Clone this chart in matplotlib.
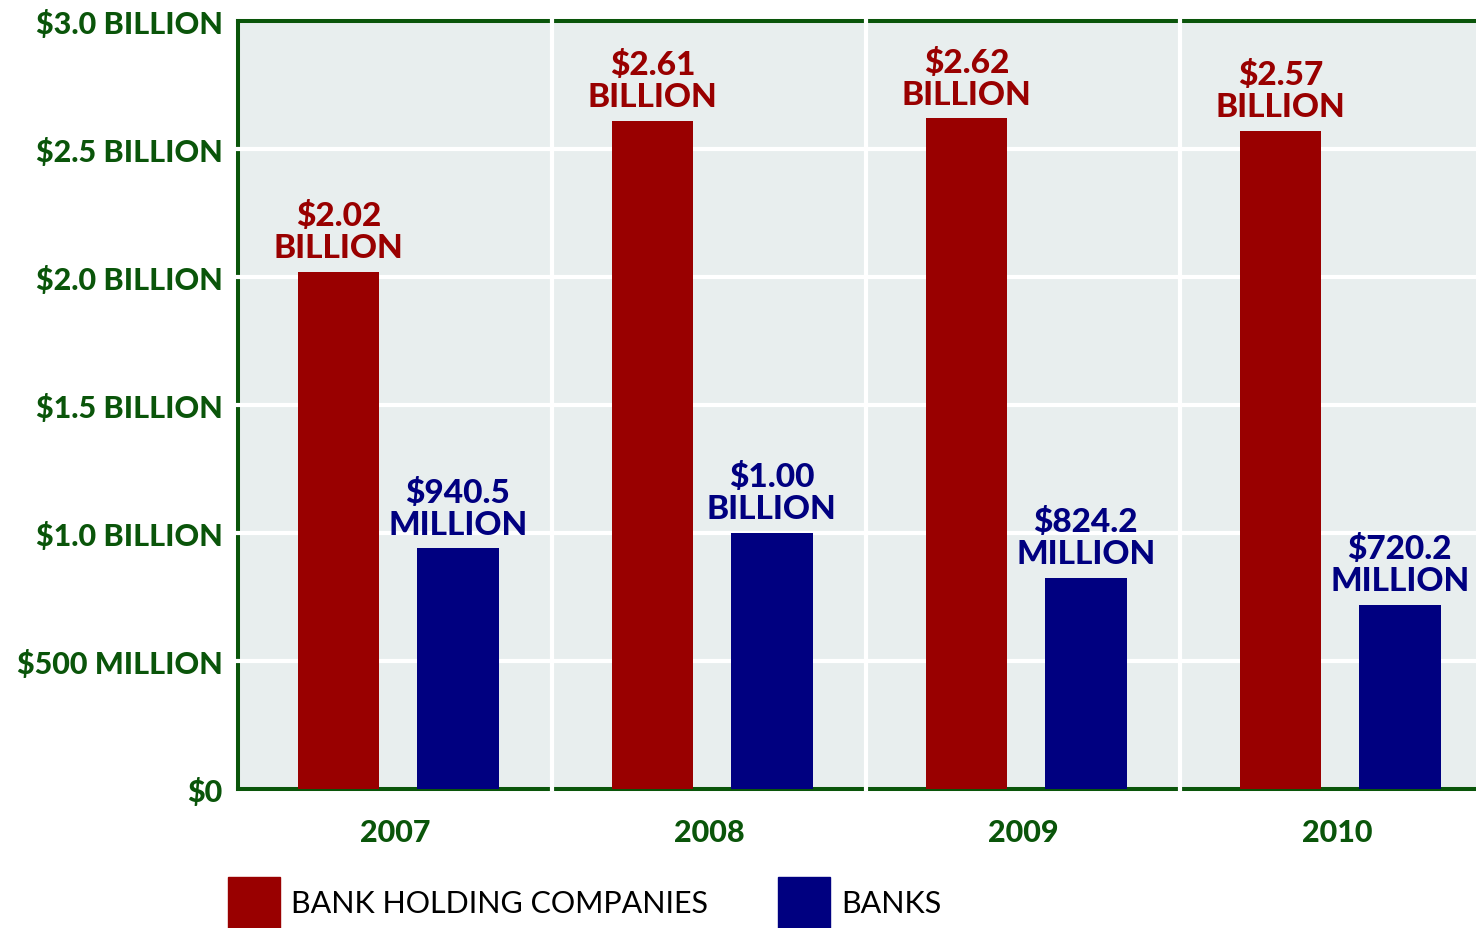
import numpy as np
import matplotlib
matplotlib.use('Agg')
import matplotlib.pyplot as plt
from matplotlib.patches import Patch

years = ['2007', '2008', '2009', '2010']
bhc = [2.02, 2.61, 2.62, 2.57]          # bank holding companies, $ billion
banks = [0.9405, 1.00, 0.8242, 0.7202]  # banks, $ billion
bhc_labels = ['$2.02\nBILLION', '$2.61\nBILLION', '$2.62\nBILLION', '$2.57\nBILLION']
bank_labels = ['$940.5\nMILLION', '$1.00\nBILLION', '$824.2\nMILLION', '$720.2\nMILLION']
yticks = [0, 0.5, 1.0, 1.5, 2.0, 2.5, 3.0]
ytick_labels = ['$0', '$500 MILLION', '$1.0 BILLION', '$1.5 BILLION',
                '$2.0 BILLION', '$2.5 BILLION', '$3.0 BILLION']

red = '#990000'
blue = '#000080'
green = '#0A550A'
bg = '#E8EEEE'

plt.rcParams['font.family'] = ['Lato', 'DejaVu Sans']

fig = plt.figure(figsize=(14.76, 9.29), dpi=100)
ax = fig.add_axes([0.1612, 0.1496, 0.851, 0.8267])
ax.set_facecolor(bg)

x = np.arange(len(years))
w = 0.26
b1 = ax.bar(x - 0.18, bhc, w, color=red, zorder=4)
b2 = ax.bar(x + 0.20, banks, w, color=blue, zorder=4)

for rect, lab in zip(b1, bhc_labels):
    ax.annotate(lab, (rect.get_x() + rect.get_width() / 2, rect.get_height()),
                xytext=(0, 7), textcoords='offset points', ha='center', va='bottom',
                fontsize=24, fontweight='black', color=red, linespacing=1.12, zorder=5)
for rect, lab in zip(b2, bank_labels):
    ax.annotate(lab, (rect.get_x() + rect.get_width() / 2, rect.get_height()),
                xytext=(0, 7), textcoords='offset points', ha='center', va='bottom',
                fontsize=24, fontweight='black', color=blue, linespacing=1.12, zorder=5)

ax.set_xlim(-0.5, 3.5)
ax.set_ylim(0, 3.0)

# white grid, drawn over the spines so they look broken
for yv in yticks[1:-1]:
    ax.axhline(yv, xmin=-0.006, xmax=1, color='white', lw=3, zorder=3, clip_on=False)
for xv in [0.5, 1.5, 2.5]:
    ax.axvline(xv, ymin=0, ymax=1.006, color='white', lw=3, zorder=3, clip_on=False)

for s in ['left', 'top', 'bottom']:
    ax.spines[s].set_color(green)
    ax.spines[s].set_linewidth(2.9)
    ax.spines[s].set_zorder(2.8)
ax.spines['right'].set_visible(False)

ax.set_yticks(yticks)
ax.set_yticklabels(ytick_labels)
ax.set_xticks(x)
ax.set_xticklabels(years)
ax.tick_params(axis='y', length=0, pad=11, labelsize=22, labelcolor=green)
ax.tick_params(axis='x', length=0, pad=21, labelsize=22, labelcolor=green)
for t in ax.get_xticklabels() + ax.get_yticklabels():
    t.set_fontweight('black')

handles = [Patch(color=red), Patch(color=blue)]
fig.legend(handles, ['BANK HOLDING COMPANIES', 'BANKS'], loc='lower left',
           bbox_to_anchor=(0.1545, 0.0), ncol=2, frameon=False, fontsize=22,
           handlelength=1.7, handleheight=2.2, handletextpad=0.36,
           columnspacing=2.3, borderpad=0, borderaxespad=0)

fig.savefig('out.png', dpi=100)
